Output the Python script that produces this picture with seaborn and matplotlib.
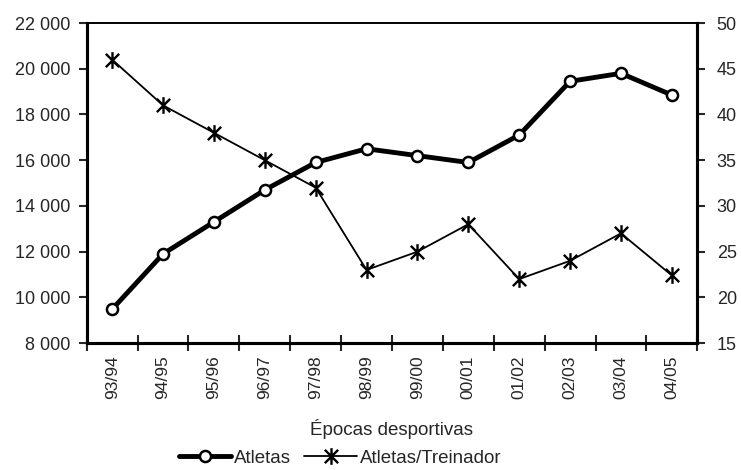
import numpy as np
import pandas as pd
import matplotlib
matplotlib.use("Agg")
import matplotlib.pyplot as plt
from matplotlib.path import Path
from matplotlib.lines import Line2D
from matplotlib.ticker import FuncFormatter, FixedLocator
import seaborn as sns

epocas = ["93/94", "94/95", "95/96", "96/97", "97/98", "98/99",
          "99/00", "00/01", "01/02", "02/03", "03/04", "04/05"]
atletas = [9480, 11900, 13300, 14700, 15900, 16500,
           16200, 15900, 17100, 19450, 19800, 18850]
atletas_treinador = [46, 41, 38, 35, 32, 23, 25, 28, 22, 24, 27, 22.4]

df = pd.DataFrame({"pos": np.arange(len(epocas)), "epoca": epocas,
                   "atletas": atletas, "ratio": atletas_treinador})

sns.set_style("white")
plt.rcParams['font.family'] = ['Liberation Sans', 'DejaVu Sans']
plt.rcParams['font.size'] = 13

# Excel-style star marker: an X with a vertical bar
star = Path([(-1, -1), (1, 1), (-1, 1), (1, -1), (0, -1.25), (0, 1.25)],
            [Path.MOVETO, Path.LINETO, Path.MOVETO, Path.LINETO, Path.MOVETO, Path.LINETO])

fig = plt.figure(figsize=(7.41, 4.70), dpi=100)
ax = fig.add_axes([0.117, 0.270, 0.824, 0.681])
ax2 = ax.twinx()

sns.lineplot(data=df, x="pos", y="ratio", ax=ax2, color="black", linewidth=1.3,
             marker=star, markersize=12, markeredgewidth=1.7,
             markeredgecolor="black", markerfacecolor="none")
sns.lineplot(data=df, x="pos", y="atletas", ax=ax, color="black", linewidth=3.5,
             marker="o", markersize=8, markerfacecolor="white",
             markeredgecolor="black", markeredgewidth=1.8, zorder=5)
ax.set_zorder(ax2.get_zorder() + 1)
ax.patch.set_visible(False)

ax.set_xlim(-0.5, len(epocas) - 0.5)
ax.set_ylim(8000, 22000)
ax.set_yticks(np.arange(8000, 22001, 2000))
ax.yaxis.set_major_formatter(FuncFormatter(lambda v, p: f"{v:,.0f}".replace(",", " ")))
ax2.set_ylim(15, 50)
ax2.set_yticks(np.arange(15, 51, 5))

# category labels centred, tick marks on the boundaries
ax.set_xticks(np.arange(len(epocas)))
ax.set_xticklabels(epocas, rotation=90, fontsize=12.5)
ax.tick_params(axis="x", which="major", length=0, pad=9)
ax.xaxis.set_minor_locator(FixedLocator(np.arange(-0.5, len(epocas), 1)))
ax.tick_params(axis="x", which="minor", length=12, width=1.5, direction="inout", bottom=True)
ax.tick_params(axis="y", length=6, width=1.5, direction="out", left=True, pad=6, labelsize=13)
ax2.tick_params(axis="y", length=6, width=1.5, direction="out", right=True, pad=8, labelsize=13)

ax.set_xlabel("Épocas desportivas", labelpad=14, fontsize=13.5)
ax.set_ylabel("")
ax2.set_ylabel("")
ax2.set_xlabel("")

for a in (ax, ax2):
    for side in ("left", "bottom", "right"):
        a.spines[side].set_linewidth(2.2)
        a.spines[side].set_color("black")
    a.spines["top"].set_linewidth(1.2)
    a.spines["top"].set_color("black")
    a.grid(False)

handles = [Line2D([], [], color="black", linewidth=3.5, marker="o", markersize=8,
                  markerfacecolor="white", markeredgecolor="black", markeredgewidth=1.8),
           Line2D([], [], color="black", linewidth=1.3, marker=star, markersize=12,
                  markeredgewidth=1.7, markerfacecolor="none", markeredgecolor="black")]
fig.legend(handles, ["Atletas", "Atletas/Treinador"], loc="center", ncol=2,
           bbox_to_anchor=(0.459, 0.025), frameon=False, handlelength=2.8,
           handletextpad=0.15, columnspacing=0.7, fontsize=13.5)

fig.savefig("out.png", dpi=100)
